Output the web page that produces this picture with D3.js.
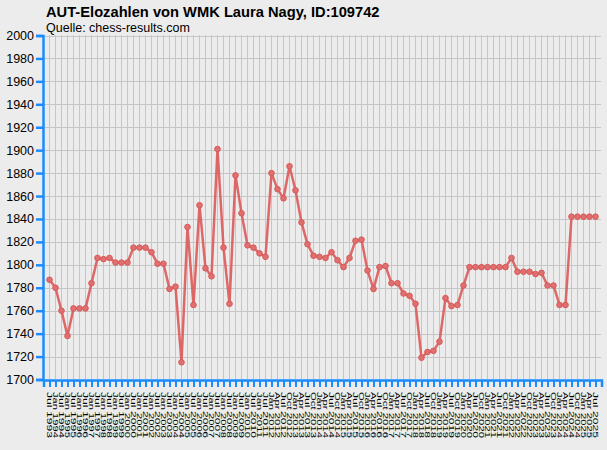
<!DOCTYPE html>
<html>
<head>
<meta charset="utf-8">
<script src="https://cdn.jsdelivr.net/npm/d3@7"></script>
<style>
  html, body { margin: 0; padding: 0; background: #ececec; }
  svg { display: block; }
  text { font-family: "Liberation Sans", Arial, sans-serif; }
</style>
</head>
<body>
<div id="chart"></div>
<script>
const titleText = "AUT-Elozahlen von WMK Laura Nagy, ID:109742";
const subtitleText = "Quelle: chess-results.com";

const periods = [
  "Jul 1993",
  "Jan 1994","Jul 1994","Jan 1995","Jul 1995","Jan 1996","Jul 1996","Jan 1997","Jul 1997",
  "Jan 1998","Jul 1998","Jan 1999","Jul 1999","Jan 2000","Jul 2000","Jan 2001","Jul 2001",
  "Jan 2002","Jul 2002","Jan 2003","Jul 2003","Jan 2004","Jul 2004","Jan 2005","Jul 2005",
  "Jan 2006","Jul 2006","Jan 2007","Jul 2007","Jan 2008","Jul 2008","Jan 2009","Jul 2009",
  "Jan 2010","Jul 2010","Jan 2011","Jul 2011","Jan 2012",
  "Apr 2012","Jul 2012","Oct 2012",
  "Jan 2013","Apr 2013","Jul 2013","Oct 2013",
  "Jan 2014","Apr 2014","Jul 2014","Oct 2014",
  "Jan 2015","Apr 2015","Jul 2015","Oct 2015",
  "Jan 2016","Apr 2016","Jul 2016","Oct 2016",
  "Jan 2017","Apr 2017","Jul 2017","Oct 2017",
  "Jan 2018","Apr 2018","Jul 2018","Oct 2018",
  "Jan 2019","Apr 2019","Jul 2019","Oct 2019",
  "Jan 2020","Apr 2020","Jul 2020","Oct 2020",
  "Jan 2021","Apr 2021","Jul 2021","Oct 2021",
  "Jan 2022","Apr 2022","Jul 2022","Oct 2022",
  "Jan 2023","Apr 2023","Jul 2023","Oct 2023",
  "Jan 2024","Apr 2024","Jul 2024","Oct 2024",
  "Jan 2025","Apr 2025","Jul 2025"
];

const elo = [
  1787,1780,1760,1738,1762,1762,1762,1784,1806,1805,
  1806,1802,1802,1802,1815,1815,1815,1811,1801,1801,
  1779,1781,1715,1833,1765,1852,1797,1790,1901,1815,
  1766,1878,1845,1817,1815,1810,1807,1880,1866,1858,
  1886,1865,1837,1818,1808,1807,1806,1811,1804,1798,
  1806,1821,1822,1795,1779,1798,1799,1784,1784,1775,
  1773,1766,1719,1724,1725,1733,1771,1764,1765,1782,
  1798,1798,1798,1798,1798,1798,1798,1806,1794,1794,
  1794,1792,1793,1782,1782,1765,1765,1842,1842,1842,
  1842,1842
];

const yTicks = [1700,1720,1740,1760,1780,1800,1820,1840,1860,1880,1900,1920,1940,1960,1980,2000];

const W = 607, H = 450;
const axisColor = "#1a8cff";
const gridColor = "#c6c6c6";
const lineColor = "#dc5a5a";

const svg = d3.select("#chart").append("svg")
  .attr("width", W).attr("height", H);

svg.append("rect").attr("width", W).attr("height", H).attr("fill", "#ececec");

const x = d3.scaleLinear().domain([-1, periods.length]).range([43.5, 601.5]);
const y = d3.scaleLinear().domain([1700, 2000]).range([379.5, 35.5]);

// grid
const grid = svg.append("g");
grid.selectAll("line.h").data(yTicks.slice(1)).join("line")
  .attr("x1", 44).attr("x2", 601)
  .attr("y1", d => Math.round(y(d)) + 0.5).attr("y2", d => Math.round(y(d)) + 0.5)
  .attr("stroke", gridColor).attr("stroke-width", 1);
grid.selectAll("line.v").data(periods).join("line")
  .attr("x1", (d, i) => x(i)).attr("x2", (d, i) => x(i))
  .attr("y1", 35).attr("y2", 379)
  .attr("stroke", gridColor).attr("stroke-width", 1);

// y axis
const yAxis = d3.axisLeft(y).tickValues(yTicks).tickSize(7).tickPadding(2).tickFormat(d3.format("d"));
const gy = svg.append("g").attr("transform", "translate(43,0)").call(yAxis);
gy.select(".domain").attr("stroke", axisColor).attr("stroke-width", 2.5);
gy.selectAll(".tick line").attr("stroke", axisColor).attr("stroke-width", 2.5);
gy.selectAll(".tick text").attr("font-size", 12.5).attr("fill", "#000")
  .attr("font-family", "'Liberation Sans', Arial, sans-serif");

// x axis
const xAxis = d3.axisBottom(x).tickValues(d3.range(periods.length)).tickSize(7).tickFormat(i => periods[i]);
const gx = svg.append("g").attr("transform", "translate(0,380)").call(xAxis);
gx.select(".domain").attr("stroke", axisColor).attr("stroke-width", 2.5);
gx.selectAll(".tick line").attr("stroke", axisColor).attr("stroke-width", 2);
gx.selectAll(".tick text")
  .attr("font-size", 7.5).attr("fill", "#000")
  .attr("font-family", "'Liberation Sans', Arial, sans-serif")
  .attr("text-anchor", "start")
  .attr("transform", "rotate(90)")
  .attr("x", 12).attr("y", 0).attr("dy", "0.35em")
  .attr("textLength", 46).attr("lengthAdjust", "spacingAndGlyphs");

// line
const line = d3.line().x((d, i) => x(i)).y(d => y(d));
svg.append("path").datum(elo)
  .attr("d", line)
  .attr("fill", "none")
  .attr("stroke", lineColor).attr("stroke-opacity", 0.9)
  .attr("stroke-width", 2.5).attr("stroke-linejoin", "round");

svg.append("g").selectAll("circle").data(elo).join("circle")
  .attr("cx", (d, i) => x(i)).attr("cy", d => y(d))
  .attr("r", 2.8)
  .attr("fill", "#e07070").attr("stroke", "#d85858").attr("stroke-width", 1);

// titles
svg.append("text").attr("x", 46).attr("y", 16.5)
  .attr("font-size", 14.7).attr("font-weight", "bold").attr("fill", "#000")
  .text(titleText);
svg.append("text").attr("x", 46).attr("y", 31.5)
  .attr("font-size", 12.5).attr("fill", "#000")
  .text(subtitleText);
</script>
</body>
</html>
